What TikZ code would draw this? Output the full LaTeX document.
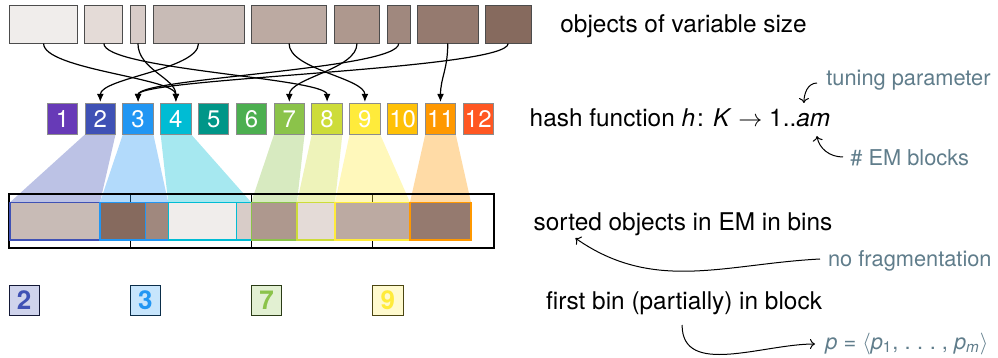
\documentclass[tikz,border=0pt]{standalone}
\usepackage{fontspec}
\setmainfont{TeX Gyre Heros}
\usetikzlibrary{arrows.meta,positioning}

% shades of the objects
\definecolor{ob1}{HTML}{F0EDEB}
\definecolor{ob2}{HTML}{E4DBD7}
\definecolor{ob3}{HTML}{D8CCC8}
\definecolor{ob4}{HTML}{C8BBB6}
\definecolor{ob5}{HTML}{BCAAA2}
\definecolor{ob6}{HTML}{AE988E}
\definecolor{ob7}{HTML}{A0887E}
\definecolor{ob8}{HTML}{957A6F}
\definecolor{ob9}{HTML}{866A5E}
% bin colours
\definecolor{c1}{HTML}{673AB7}
\definecolor{c2}{HTML}{3F51B5}
\definecolor{c3}{HTML}{2196F3}
\definecolor{c4}{HTML}{00BCD4}
\definecolor{c5}{HTML}{009688}
\definecolor{c6}{HTML}{4CAF50}
\definecolor{c7}{HTML}{8BC34A}
\definecolor{c8}{HTML}{CDDC39}
\definecolor{c9}{HTML}{FFEB3B}
\definecolor{c10}{HTML}{FFC107}
\definecolor{c11}{HTML}{FF9800}
\definecolor{c12}{HTML}{FF5722}
\definecolor{note}{HTML}{607D8B}

\pgfdeclarelayer{back}
\pgfsetlayers{back,main}

\begin{document}
\begin{tikzpicture}[x=0.5pt,y=0.5pt,>={Latex[length=4pt,width=3.4pt]},
  obj/.style={draw=black!70,line width=0.5pt,minimum height=18.9pt,inner sep=0pt,outer sep=0pt},
  binobj/.style={obj,line width=0.7pt},
  hbox/.style={draw=black!45,line width=0.5pt,minimum width=15.25pt,minimum height=15.2pt,
    inner sep=0pt,outer sep=0pt,text=white,font=\fontsize{12}{14}\selectfont},
  firstbox/.style={line width=0.5pt,minimum size=15.2pt,inner sep=0pt,outer sep=0pt,
    font=\fontsize{13}{15}\selectfont\bfseries},
  txt/.style={inner sep=0pt,anchor=base west,font=\fontsize{12.2}{14}\selectfont},
  notetxt/.style={txt,text=note,font=\fontsize{10.9}{13}\selectfont},
  mapto/.style={->,line width=0.6pt,out=-90,in=90,out distance=13pt,in distance=13pt,shorten >=1pt},
  noteto/.style={-{To[length=2.5pt,width=5pt]},line width=0.5pt}]
\useasboundingbox (0,0) rectangle (998,-358);

% objects of variable size
\node[obj,fill=ob1,minimum width=34pt,anchor=north west] (o1) at (9.6,-5.7) {};
\foreach \n/\w [remember=\n as \p (initially 1)] in {2/19,3/7.75,4/45.5,5/37.75,6/22.9,7/11.5,8/30.25,9/22.9}
  \node[obj,fill=ob\n,minimum width=\w pt,right=3.65pt of o\p] (o\n) {};

% hash values
\node[hbox,fill=c1] (h1) at (62.5,-119.2) {1};
\foreach \i [remember=\i as \p (initially 1)] in {2,...,12}
  \node[hbox,fill=c\i,right=3.65pt of h\p] (h\i) {\i};

% external memory
\node[draw,line width=0.65pt,minimum width=242.5pt,minimum height=27pt,inner sep=0pt,outer sep=0pt] (em) at (251.5,-221) {};
\node[binobj,draw=c2,fill=ob4,minimum width=45pt,anchor=north west] (e4) at (10,-202.3) {};
\foreach \n/\b/\w [remember=\n as \p (initially 4)] in {9/3/22.7,7/3/11.4,1/4/34,3/4/7.5,6/7/22.9,2/8/19,5/9/37.5,8/11/30.5}
  \node[binobj,draw=c\b,fill=ob\n,minimum width=\w pt,right=0pt of e\p] (e\n) {};

\begin{pgfonlayer}{back}
\foreach \k in {1,2,3}
  \draw[line width=0.65pt] ([xshift=\k*60.6pt]em.north west) -- ([xshift=\k*60.6pt]em.south west);
\foreach \b/\l/\r in {2/4/4,3/9/7,4/1/3,7/6/6,8/2/2,9/5/5,11/8/8}
  \fill[c\b,opacity=.35] (h\b.south west) -- (h\b.south east) -- (e\r.north east) -- (e\l.north west) -- cycle;
\end{pgfonlayer}

\path (o1.south) edge[mapto] (h4.north)
      (o2.south) edge[mapto] (h8.north)
      (o3.south) edge[mapto] (h4.north)
      (o4.south) edge[mapto] (h2.north)
      (o5.south) edge[mapto] (h9.north)
      (o6.south) edge[mapto] (h7.north)
      (o7.south) edge[mapto] (h3.north)
      (o8.south) edge[mapto] (h11.north)
      (o9.south) edge[mapto] (h3.north);

% first bin in each block
\foreach \k/\i in {0/2,1/3,2/7,3/9}
  \node[firstbox,draw=c\i!30!black,fill=c\i!25,text=c\i,anchor=north west] (f\i) at ([xshift=\k*60.6pt,yshift=-18.65pt]em.south west) {\i};

% texts
\node[txt] (objs) at (560,-33) {objects of variable size};
\node[txt] (hash) at (529.3,-126.7) {hash function \textit{h}\kern1pt: \textit{K} $\rightarrow$ 1..\textit{am}};
\node[notetxt] (tune) at (826,-86) {tuning parameter};
\node[notetxt] (blocks) at (850,-166) {\# EM blocks};
\node[txt] (sorted) at (533.3,-230.7) {sorted objects in EM in bins};
\node[notetxt] (nofrag) at (827.7,-267) {no fragmentation};
\node[txt] (first) at (545.7,-310) {first bin (partially) in block};
\node[notetxt] (pvec) at (825,-349.3) {\textit{p}\;=\;$\langle$\textit{p}\textsubscript{1},\;.\hspace{0.3em}.\hspace{0.3em}.\;,\;\textit{p}\textsubscript{\textit{m}}$\rangle$};

\coordinate (amtop) at ([xshift=-13.35pt,yshift=11.85pt]hash.base east);
\coordinate (ambot) at ([xshift=-6.85pt,yshift=-4.65pt]hash.base east);
\draw[noteto] ([xshift=-4.5pt,yshift=1.5pt]tune.base west) to[out=180,in=90] (amtop);
\draw[noteto] ([xshift=-3.5pt,yshift=4.5pt]blocks.base west) to[out=180,in=-80] (ambot);
\draw[noteto] ([xshift=-3.85pt,yshift=4pt]nofrag.base west) to[out=183,in=-35] ([xshift=21pt,yshift=-3.7pt]sorted.base west);
\draw[noteto] ([xshift=68.2pt,yshift=-7.5pt]first.base west) to[out=-90,in=180] ([xshift=-5pt,yshift=2.65pt]pvec.base west);
\end{tikzpicture}
\end{document}
